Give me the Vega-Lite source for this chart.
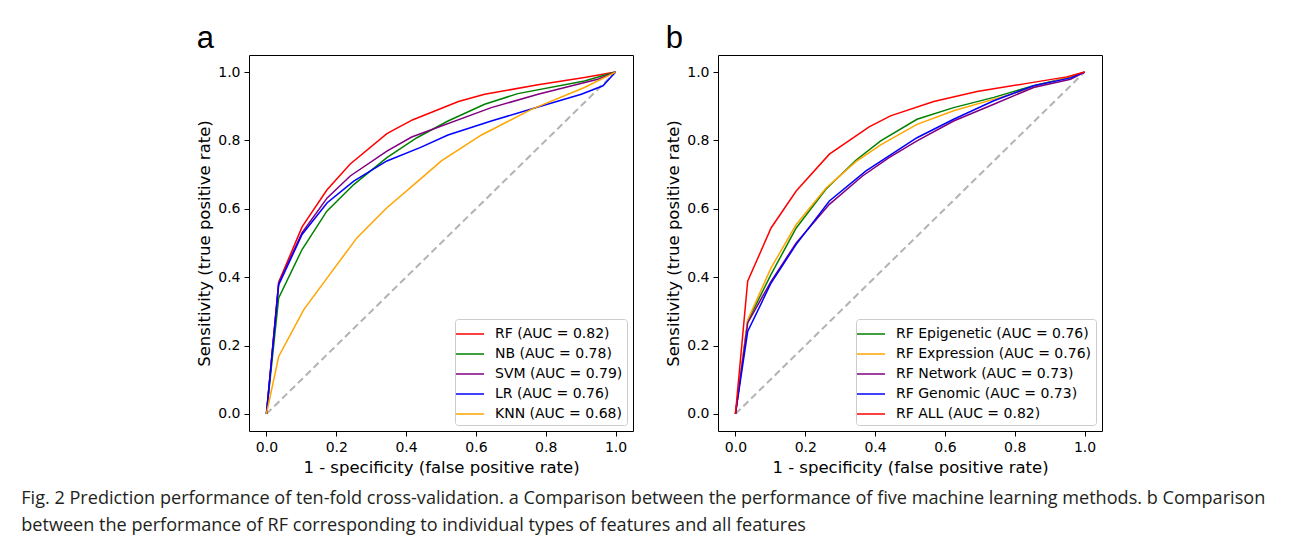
{
  "$schema": "https://vega.github.io/schema/vega-lite/v6.json",
  "background": "white",
  "padding": {"left": 21, "top": 22, "right": 5, "bottom": 5},
  "datasets": {
    "diag": [{"fpr": 0, "tpr": 0}, {"fpr": 1, "tpr": 1}],
    "a": [
      {"model": "RF (AUC = 0.82)", "fpr": 0, "tpr": 0},
      {"model": "RF (AUC = 0.82)", "fpr": 0.035, "tpr": 0.385},
      {"model": "RF (AUC = 0.82)", "fpr": 0.102, "tpr": 0.547},
      {"model": "RF (AUC = 0.82)", "fpr": 0.173, "tpr": 0.655},
      {"model": "RF (AUC = 0.82)", "fpr": 0.24, "tpr": 0.731},
      {"model": "RF (AUC = 0.82)", "fpr": 0.345, "tpr": 0.82},
      {"model": "RF (AUC = 0.82)", "fpr": 0.418, "tpr": 0.86},
      {"model": "RF (AUC = 0.82)", "fpr": 0.55, "tpr": 0.914},
      {"model": "RF (AUC = 0.82)", "fpr": 0.625, "tpr": 0.935},
      {"model": "RF (AUC = 0.82)", "fpr": 0.778, "tpr": 0.963},
      {"model": "RF (AUC = 0.82)", "fpr": 0.911, "tpr": 0.984},
      {"model": "RF (AUC = 0.82)", "fpr": 1, "tpr": 1},
      {"model": "NB (AUC = 0.78)", "fpr": 0, "tpr": 0},
      {"model": "NB (AUC = 0.78)", "fpr": 0.035, "tpr": 0.339},
      {"model": "NB (AUC = 0.78)", "fpr": 0.102, "tpr": 0.481},
      {"model": "NB (AUC = 0.78)", "fpr": 0.173, "tpr": 0.593},
      {"model": "NB (AUC = 0.78)", "fpr": 0.25, "tpr": 0.671},
      {"model": "NB (AUC = 0.78)", "fpr": 0.345, "tpr": 0.75},
      {"model": "NB (AUC = 0.78)", "fpr": 0.431, "tpr": 0.808},
      {"model": "NB (AUC = 0.78)", "fpr": 0.52, "tpr": 0.857},
      {"model": "NB (AUC = 0.78)", "fpr": 0.625, "tpr": 0.906},
      {"model": "NB (AUC = 0.78)", "fpr": 0.72, "tpr": 0.937},
      {"model": "NB (AUC = 0.78)", "fpr": 0.911, "tpr": 0.974},
      {"model": "NB (AUC = 0.78)", "fpr": 1, "tpr": 1},
      {"model": "SVM (AUC = 0.79)", "fpr": 0, "tpr": 0},
      {"model": "SVM (AUC = 0.79)", "fpr": 0.035, "tpr": 0.383},
      {"model": "SVM (AUC = 0.79)", "fpr": 0.102, "tpr": 0.53},
      {"model": "SVM (AUC = 0.79)", "fpr": 0.174, "tpr": 0.632},
      {"model": "SVM (AUC = 0.79)", "fpr": 0.24, "tpr": 0.696},
      {"model": "SVM (AUC = 0.79)", "fpr": 0.345, "tpr": 0.769},
      {"model": "SVM (AUC = 0.79)", "fpr": 0.416, "tpr": 0.81},
      {"model": "SVM (AUC = 0.79)", "fpr": 0.644, "tpr": 0.896},
      {"model": "SVM (AUC = 0.79)", "fpr": 0.778, "tpr": 0.935},
      {"model": "SVM (AUC = 0.79)", "fpr": 0.949, "tpr": 0.979},
      {"model": "SVM (AUC = 0.79)", "fpr": 1, "tpr": 1},
      {"model": "LR (AUC = 0.76)", "fpr": 0, "tpr": 0},
      {"model": "LR (AUC = 0.76)", "fpr": 0.035, "tpr": 0.377},
      {"model": "LR (AUC = 0.76)", "fpr": 0.102, "tpr": 0.525},
      {"model": "LR (AUC = 0.76)", "fpr": 0.174, "tpr": 0.618},
      {"model": "LR (AUC = 0.76)", "fpr": 0.25, "tpr": 0.681},
      {"model": "LR (AUC = 0.76)", "fpr": 0.345, "tpr": 0.74},
      {"model": "LR (AUC = 0.76)", "fpr": 0.44, "tpr": 0.779},
      {"model": "LR (AUC = 0.76)", "fpr": 0.52, "tpr": 0.816},
      {"model": "LR (AUC = 0.76)", "fpr": 0.644, "tpr": 0.857},
      {"model": "LR (AUC = 0.76)", "fpr": 0.778, "tpr": 0.898},
      {"model": "LR (AUC = 0.76)", "fpr": 0.902, "tpr": 0.935},
      {"model": "LR (AUC = 0.76)", "fpr": 0.964, "tpr": 0.96},
      {"model": "LR (AUC = 0.76)", "fpr": 1, "tpr": 1},
      {"model": "KNN (AUC = 0.68)", "fpr": 0, "tpr": 0},
      {"model": "KNN (AUC = 0.68)", "fpr": 0.035, "tpr": 0.168},
      {"model": "KNN (AUC = 0.68)", "fpr": 0.107, "tpr": 0.305},
      {"model": "KNN (AUC = 0.68)", "fpr": 0.174, "tpr": 0.398},
      {"model": "KNN (AUC = 0.68)", "fpr": 0.259, "tpr": 0.515},
      {"model": "KNN (AUC = 0.68)", "fpr": 0.345, "tpr": 0.603},
      {"model": "KNN (AUC = 0.68)", "fpr": 0.44, "tpr": 0.686},
      {"model": "KNN (AUC = 0.68)", "fpr": 0.501, "tpr": 0.74},
      {"model": "KNN (AUC = 0.68)", "fpr": 0.616, "tpr": 0.816},
      {"model": "KNN (AUC = 0.68)", "fpr": 0.759, "tpr": 0.891},
      {"model": "KNN (AUC = 0.68)", "fpr": 0.911, "tpr": 0.955},
      {"model": "KNN (AUC = 0.68)", "fpr": 1, "tpr": 1}
    ],
    "b": [
      {"model": "RF Epigenetic (AUC = 0.76)", "fpr": 0, "tpr": 0},
      {"model": "RF Epigenetic (AUC = 0.76)", "fpr": 0.035, "tpr": 0.271},
      {"model": "RF Epigenetic (AUC = 0.76)", "fpr": 0.102, "tpr": 0.408},
      {"model": "RF Epigenetic (AUC = 0.76)", "fpr": 0.174, "tpr": 0.544},
      {"model": "RF Epigenetic (AUC = 0.76)", "fpr": 0.259, "tpr": 0.657},
      {"model": "RF Epigenetic (AUC = 0.76)", "fpr": 0.345, "tpr": 0.742},
      {"model": "RF Epigenetic (AUC = 0.76)", "fpr": 0.416, "tpr": 0.799},
      {"model": "RF Epigenetic (AUC = 0.76)", "fpr": 0.52, "tpr": 0.862},
      {"model": "RF Epigenetic (AUC = 0.76)", "fpr": 0.625, "tpr": 0.896},
      {"model": "RF Epigenetic (AUC = 0.76)", "fpr": 0.74, "tpr": 0.926},
      {"model": "RF Epigenetic (AUC = 0.76)", "fpr": 0.854, "tpr": 0.96},
      {"model": "RF Epigenetic (AUC = 0.76)", "fpr": 0.96, "tpr": 0.986},
      {"model": "RF Epigenetic (AUC = 0.76)", "fpr": 1, "tpr": 1},
      {"model": "RF Expression (AUC = 0.76)", "fpr": 0, "tpr": 0},
      {"model": "RF Expression (AUC = 0.76)", "fpr": 0.035, "tpr": 0.275},
      {"model": "RF Expression (AUC = 0.76)", "fpr": 0.102, "tpr": 0.427},
      {"model": "RF Expression (AUC = 0.76)", "fpr": 0.174, "tpr": 0.554},
      {"model": "RF Expression (AUC = 0.76)", "fpr": 0.259, "tpr": 0.66},
      {"model": "RF Expression (AUC = 0.76)", "fpr": 0.345, "tpr": 0.738},
      {"model": "RF Expression (AUC = 0.76)", "fpr": 0.416, "tpr": 0.787},
      {"model": "RF Expression (AUC = 0.76)", "fpr": 0.52, "tpr": 0.847},
      {"model": "RF Expression (AUC = 0.76)", "fpr": 0.625, "tpr": 0.887},
      {"model": "RF Expression (AUC = 0.76)", "fpr": 0.759, "tpr": 0.926},
      {"model": "RF Expression (AUC = 0.76)", "fpr": 0.892, "tpr": 0.967},
      {"model": "RF Expression (AUC = 0.76)", "fpr": 1, "tpr": 1},
      {"model": "RF Network (AUC = 0.73)", "fpr": 0, "tpr": 0},
      {"model": "RF Network (AUC = 0.73)", "fpr": 0.035, "tpr": 0.266},
      {"model": "RF Network (AUC = 0.73)", "fpr": 0.102, "tpr": 0.388},
      {"model": "RF Network (AUC = 0.73)", "fpr": 0.174, "tpr": 0.5},
      {"model": "RF Network (AUC = 0.73)", "fpr": 0.269, "tpr": 0.613},
      {"model": "RF Network (AUC = 0.73)", "fpr": 0.364, "tpr": 0.696},
      {"model": "RF Network (AUC = 0.73)", "fpr": 0.44, "tpr": 0.75},
      {"model": "RF Network (AUC = 0.73)", "fpr": 0.52, "tpr": 0.799},
      {"model": "RF Network (AUC = 0.73)", "fpr": 0.625, "tpr": 0.857},
      {"model": "RF Network (AUC = 0.73)", "fpr": 0.74, "tpr": 0.906},
      {"model": "RF Network (AUC = 0.73)", "fpr": 0.854, "tpr": 0.955},
      {"model": "RF Network (AUC = 0.73)", "fpr": 0.96, "tpr": 0.979},
      {"model": "RF Network (AUC = 0.73)", "fpr": 1, "tpr": 1},
      {"model": "RF Genomic (AUC = 0.73)", "fpr": 0, "tpr": 0},
      {"model": "RF Genomic (AUC = 0.73)", "fpr": 0.035, "tpr": 0.241},
      {"model": "RF Genomic (AUC = 0.73)", "fpr": 0.102, "tpr": 0.383},
      {"model": "RF Genomic (AUC = 0.73)", "fpr": 0.174, "tpr": 0.496},
      {"model": "RF Genomic (AUC = 0.73)", "fpr": 0.269, "tpr": 0.623},
      {"model": "RF Genomic (AUC = 0.73)", "fpr": 0.374, "tpr": 0.711},
      {"model": "RF Genomic (AUC = 0.73)", "fpr": 0.52, "tpr": 0.808},
      {"model": "RF Genomic (AUC = 0.73)", "fpr": 0.625, "tpr": 0.862},
      {"model": "RF Genomic (AUC = 0.73)", "fpr": 0.74, "tpr": 0.916},
      {"model": "RF Genomic (AUC = 0.73)", "fpr": 0.854, "tpr": 0.96},
      {"model": "RF Genomic (AUC = 0.73)", "fpr": 0.96, "tpr": 0.983},
      {"model": "RF Genomic (AUC = 0.73)", "fpr": 1, "tpr": 1},
      {"model": "RF ALL (AUC = 0.82)", "fpr": 0, "tpr": 0},
      {"model": "RF ALL (AUC = 0.82)", "fpr": 0.035, "tpr": 0.388},
      {"model": "RF ALL (AUC = 0.82)", "fpr": 0.102, "tpr": 0.544},
      {"model": "RF ALL (AUC = 0.82)", "fpr": 0.174, "tpr": 0.652},
      {"model": "RF ALL (AUC = 0.82)", "fpr": 0.269, "tpr": 0.76},
      {"model": "RF ALL (AUC = 0.82)", "fpr": 0.383, "tpr": 0.84},
      {"model": "RF ALL (AUC = 0.82)", "fpr": 0.444, "tpr": 0.872},
      {"model": "RF ALL (AUC = 0.82)", "fpr": 0.568, "tpr": 0.914},
      {"model": "RF ALL (AUC = 0.82)", "fpr": 0.692, "tpr": 0.943},
      {"model": "RF ALL (AUC = 0.82)", "fpr": 0.835, "tpr": 0.967},
      {"model": "RF ALL (AUC = 0.82)", "fpr": 0.949, "tpr": 0.986},
      {"model": "RF ALL (AUC = 0.82)", "fpr": 1, "tpr": 1}
    ]
  },
  "title": {
    "text": [
      "Fig. 2 Prediction performance of ten-fold cross-validation. a Comparison between the performance of five machine learning methods. b Comparison",
      "between the performance of RF corresponding to individual types of features and all features"
    ],
    "orient": "bottom",
    "anchor": "start",
    "frame": "bounds",
    "dx": -175,
    "offset": 14,
    "baseline": "top",
    "font": "Open Sans",
    "fontSize": 18.1,
    "fontWeight": "normal",
    "lineHeight": 27,
    "color": "#231f20",
    "limit": 1300
  },
  "spacing": 31,
  "resolve": {"scale": {"color": "independent"}, "legend": {"color": "independent"}},
  "hconcat": [
    {
      "width": 384,
      "height": 376,
      "title": {"text": "a", "anchor": "start", "frame": "bounds", "font": "Liberation Sans", "fontSize": 31, "fontWeight": "normal", "baseline": "bottom", "offset": -31, "color": "#000"},
      "layer": [
        {
          "data": {"name": "diag"},
          "mark": {"type": "line", "color": "#b3b3b3", "strokeDash": [7, 4], "strokeWidth": 2},
          "encoding": {
            "x": {"field": "fpr", "type": "quantitative", "scale": {"domain": [-0.05, 1.05], "nice": false, "zero": false}, "axis": {"title": "1 - specificity (false positive rate)", "values": [0, 0.2, 0.4, 0.6, 0.8, 1.0], "format": ".1f"}},
            "y": {"field": "tpr", "type": "quantitative", "scale": {"domain": [-0.05, 1.05], "nice": false, "zero": false}, "axis": {"title": "Sensitivity (true positive rate)", "values": [0, 0.2, 0.4, 0.6, 0.8, 1.0], "format": ".1f"}}
          }
        },
        {
          "data": {"name": "a"},
          "mark": {"type": "line", "strokeWidth": 1.5},
          "encoding": {
            "x": {"field": "fpr", "type": "quantitative", "scale": {"domain": [-0.05, 1.05], "nice": false, "zero": false}, "axis": {"title": "1 - specificity (false positive rate)", "values": [0, 0.2, 0.4, 0.6, 0.8, 1.0], "format": ".1f"}},
            "y": {"field": "tpr", "type": "quantitative", "scale": {"domain": [-0.05, 1.05], "nice": false, "zero": false}, "axis": {"title": "Sensitivity (true positive rate)", "values": [0, 0.2, 0.4, 0.6, 0.8, 1.0], "format": ".1f"}},
            "color": {
              "field": "model", "type": "nominal",
              "scale": {"domain": ["RF (AUC = 0.82)", "NB (AUC = 0.78)", "SVM (AUC = 0.79)", "LR (AUC = 0.76)", "KNN (AUC = 0.68)"], "range": ["#ff0000", "#008000", "#800080", "#0000ff", "#ffa500"]},
              "legend": {"title": null, "orient": "bottom-right", "offset": 6, "fillColor": "white", "strokeColor": "#cccccc", "cornerRadius": 3, "padding": 4, "symbolType": "M-1.4,0H1.4", "symbolSize": 400, "symbolStrokeWidth": 1.5, "labelFont": "DejaVu Sans", "labelFontSize": 14, "labelColor": "#000", "labelOffset": 14, "rowPadding": 2, "labelLimit": 400}
            }
          }
        }
      ]
    },
    {
      "width": 384,
      "height": 376,
      "title": {"text": "b", "anchor": "start", "frame": "bounds", "font": "Liberation Sans", "fontSize": 31, "fontWeight": "normal", "baseline": "bottom", "offset": -31, "color": "#000"},
      "layer": [
        {
          "data": {"name": "diag"},
          "mark": {"type": "line", "color": "#b3b3b3", "strokeDash": [7, 4], "strokeWidth": 2},
          "encoding": {
            "x": {"field": "fpr", "type": "quantitative", "scale": {"domain": [-0.05, 1.05], "nice": false, "zero": false}, "axis": {"title": "1 - specificity (false positive rate)", "values": [0, 0.2, 0.4, 0.6, 0.8, 1.0], "format": ".1f"}},
            "y": {"field": "tpr", "type": "quantitative", "scale": {"domain": [-0.05, 1.05], "nice": false, "zero": false}, "axis": {"title": "Sensitivity (true positive rate)", "values": [0, 0.2, 0.4, 0.6, 0.8, 1.0], "format": ".1f"}}
          }
        },
        {
          "data": {"name": "b"},
          "mark": {"type": "line", "strokeWidth": 1.5},
          "encoding": {
            "x": {"field": "fpr", "type": "quantitative", "scale": {"domain": [-0.05, 1.05], "nice": false, "zero": false}, "axis": {"title": "1 - specificity (false positive rate)", "values": [0, 0.2, 0.4, 0.6, 0.8, 1.0], "format": ".1f"}},
            "y": {"field": "tpr", "type": "quantitative", "scale": {"domain": [-0.05, 1.05], "nice": false, "zero": false}, "axis": {"title": "Sensitivity (true positive rate)", "values": [0, 0.2, 0.4, 0.6, 0.8, 1.0], "format": ".1f"}},
            "color": {
              "field": "model", "type": "nominal",
              "scale": {"domain": ["RF Epigenetic (AUC = 0.76)", "RF Expression (AUC = 0.76)", "RF Network (AUC = 0.73)", "RF Genomic (AUC = 0.73)", "RF ALL (AUC = 0.82)"], "range": ["#008000", "#ffa500", "#800080", "#0000ff", "#ff0000"]},
              "legend": {"title": null, "orient": "bottom-right", "offset": 6, "fillColor": "white", "strokeColor": "#cccccc", "cornerRadius": 3, "padding": 4, "symbolType": "M-1.4,0H1.4", "symbolSize": 400, "symbolStrokeWidth": 1.5, "labelFont": "DejaVu Sans", "labelFontSize": 14, "labelColor": "#000", "labelOffset": 14, "rowPadding": 2, "labelLimit": 400}
            }
          }
        }
      ]
    }
  ],
  "config": {
    "view": {"stroke": "#000", "strokeWidth": 1},
    "axis": {
      "grid": false, "domain": false,
      "tickColor": "#000", "tickSize": 5, "tickWidth": 1,
      "labelFont": "DejaVu Sans", "labelFontSize": 14, "labelColor": "#000", "labelPadding": 4,
      "titleFont": "DejaVu Sans", "titleFontSize": 16.5, "titleFontWeight": "normal", "titleColor": "#000", "titlePadding": 5
    }
  }
}
